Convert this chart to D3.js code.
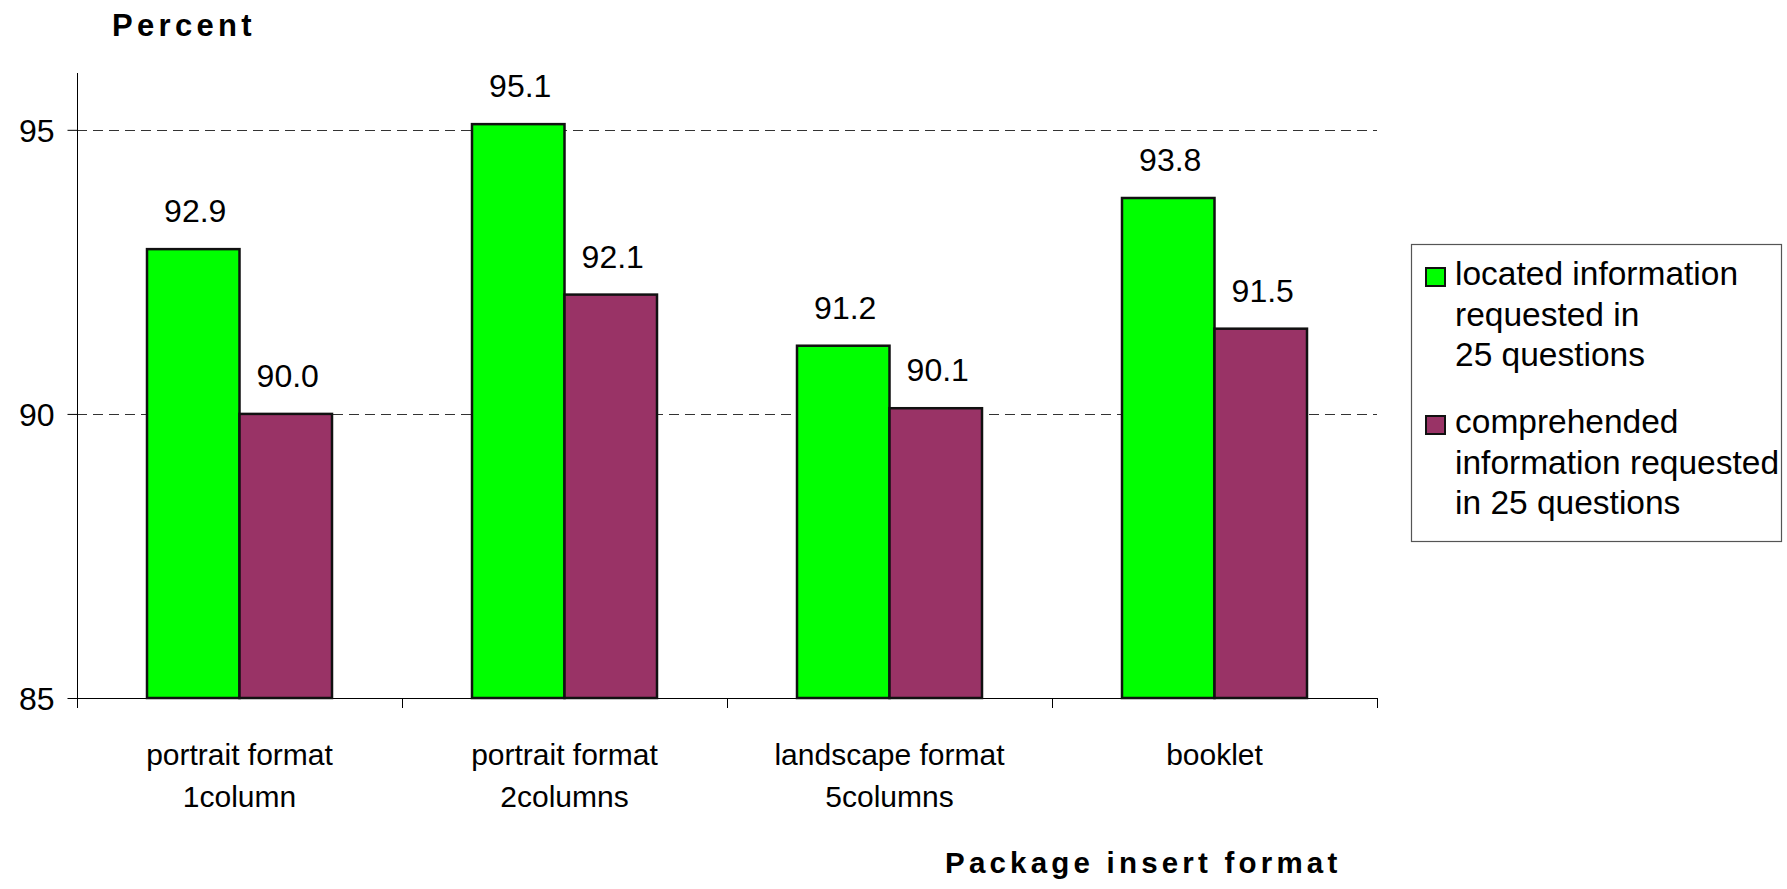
<!DOCTYPE html>
<html>
<head>
<meta charset="utf-8">
<script src="https://cdn.jsdelivr.net/npm/d3@7/dist/d3.min.js"></script>
<style>
  html, body { margin: 0; padding: 0; background: #fff; }
  svg { display: block; font-family: "Liberation Sans", Arial, sans-serif; }
</style>
</head>
<body>
<svg id="chart" width="1787" height="889"></svg>
<script>
// Package insert format categories (two-line labels)
const categories = ["portrait1", "portrait2", "landscape5", "booklet"];
const categoryLines = [
  ["portrait format", "1column"],
  ["portrait format", "2columns"],
  ["landscape format", "5columns"],
  ["booklet"]
];
const seriesNames = ["located", "comprehended"];
const seriesLegend = [
  ["located information", "requested in", "25 questions"],
  ["comprehended", "information requested", "in 25 questions"]
];
const locatedValues = [92.9, 95.1, 91.2, 93.8];
const comprehendedValues = [90.0, 92.1, 90.1, 91.5];
const seriesColors = ["#00ff00", "#993366"];
const yTicks = [85, 90, 95];
const yDomain = [85, 96];

const svg = d3.select("#chart");
const plot = { left: 77, right: 1377, top: 73, bottom: 698 };

const x0 = d3.scaleBand().domain(categories).range([plot.left, plot.right]).paddingInner(0).paddingOuter(0);
const groupWidth = 185;
const x1 = d3.scaleBand().domain(seriesNames).range([0, groupWidth]).padding(0);
const y = d3.scaleLinear().domain(yDomain).range([plot.bottom, plot.top]);

const rows = categories.map((c, i) => ({ cat: c, values: [locatedValues[i], comprehendedValues[i]] }));

// dashed gridlines
svg.append("g")
  .selectAll("line")
  .data(yTicks.filter(t => t !== yDomain[0]))
  .join("line")
  .attr("x1", plot.left).attr("x2", plot.right)
  .attr("y1", d => Math.round(y(d)) + 0.5).attr("y2", d => Math.round(y(d)) + 0.5)
  .attr("stroke", "#333").attr("stroke-width", 1)
  .attr("stroke-dasharray", "10,6");

// y axis
const yAxis = d3.axisLeft(y).tickValues(yTicks).tickSize(10).tickPadding(13).tickFormat(d3.format("d"));
const gy = svg.append("g").attr("transform", `translate(${plot.left + 0.5},0)`).call(yAxis);
gy.select(".domain").attr("d", `M0,${plot.top}V${plot.bottom + 10}`).attr("stroke", "#000");
gy.selectAll(".tick line").attr("stroke", "#000");
gy.selectAll(".tick text").attr("font-size", 32).attr("fill", "#000").attr("dy", "0.36em")
  .style("font-family", "'Liberation Sans', Arial, sans-serif");

// x axis baseline with ticks at category boundaries
const boundaries = categories.map(c => x0(c)).concat([plot.right]);
const gx = svg.append("g");
gx.append("line")
  .attr("x1", plot.left).attr("x2", plot.right)
  .attr("y1", plot.bottom + 0.5).attr("y2", plot.bottom + 0.5)
  .attr("stroke", "#000");
gx.selectAll("line.tk").data(boundaries).join("line").attr("class", "tk")
  .attr("x1", d => d + 0.5).attr("x2", d => d + 0.5)
  .attr("y1", plot.bottom).attr("y2", plot.bottom + 10)
  .attr("stroke", "#000");

// category labels
const catLabels = svg.append("g").selectAll("text").data(categories).join("text")
  .attr("x", d => x0(d) + x0.bandwidth() / 2)
  .attr("y", 765)
  .attr("text-anchor", "middle")
  .attr("font-size", 30)
  .attr("fill", "#000");
catLabels.each(function (d, i) {
  d3.select(this).selectAll("tspan").data(categoryLines[i]).join("tspan")
    .attr("x", x0(d) + x0.bandwidth() / 2)
    .attr("dy", (t, j) => j === 0 ? 0 : 42)
    .text(t => t);
});

// bars
const groups = svg.append("g").selectAll("g").data(rows).join("g")
  .attr("transform", d => `translate(${x0(d.cat) + (x0.bandwidth() - groupWidth) / 2},0)`);

groups.selectAll("rect")
  .data(d => d.values.map((v, k) => ({ key: seriesNames[k], value: v, k })))
  .join("rect")
  .attr("x", d => x1(d.key))
  .attr("y", d => y(d.value))
  .attr("width", x1.bandwidth())
  .attr("height", d => y(yDomain[0]) - y(d.value))
  .attr("fill", d => seriesColors[d.k])
  .attr("stroke", "#111")
  .attr("stroke-width", 2.5);

// value labels
groups.selectAll("text.val")
  .data(d => d.values.map((v, k) => ({ key: seriesNames[k], value: v })))
  .join("text")
  .attr("class", "val")
  .attr("x", d => x1(d.key) + x1.bandwidth() / 2 + 2)
  .attr("y", d => y(d.value) - 27)
  .attr("text-anchor", "middle")
  .attr("font-size", 32)
  .attr("fill", "#000")
  .text(d => d3.format(".1f")(d.value));

// axis titles
svg.append("text")
  .attr("x", 112).attr("y", 36)
  .attr("font-size", 31).attr("font-weight", "bold")
  .attr("letter-spacing", 4.3)
  .text("Percent");

svg.append("text")
  .attr("x", 945).attr("y", 873)
  .attr("font-size", 29.5).attr("font-weight", "bold")
  .attr("letter-spacing", 4.2)
  .text("Package insert format");

// legend
const legend = svg.append("g");
legend.append("rect")
  .attr("x", 1411.5).attr("y", 244.5)
  .attr("width", 370).attr("height", 297)
  .attr("fill", "#fff").attr("stroke", "#555").attr("stroke-width", 1.2);

const entryTop = [285, 433];
seriesNames.forEach((s, k) => {
  legend.append("rect")
    .attr("x", 1426).attr("y", entryTop[k] - 17)
    .attr("width", 19).attr("height", 18)
    .attr("fill", seriesColors[k]).attr("stroke", "#111").attr("stroke-width", 2);
  const t = legend.append("text")
    .attr("x", 1455).attr("y", entryTop[k])
    .attr("font-size", 33.5).attr("fill", "#000");
  t.selectAll("tspan").data(seriesLegend[k]).join("tspan")
    .attr("x", 1455)
    .attr("dy", (d, j) => j === 0 ? 0 : 40.5)
    .text(d => d);
});
</script>
</body>
</html>
